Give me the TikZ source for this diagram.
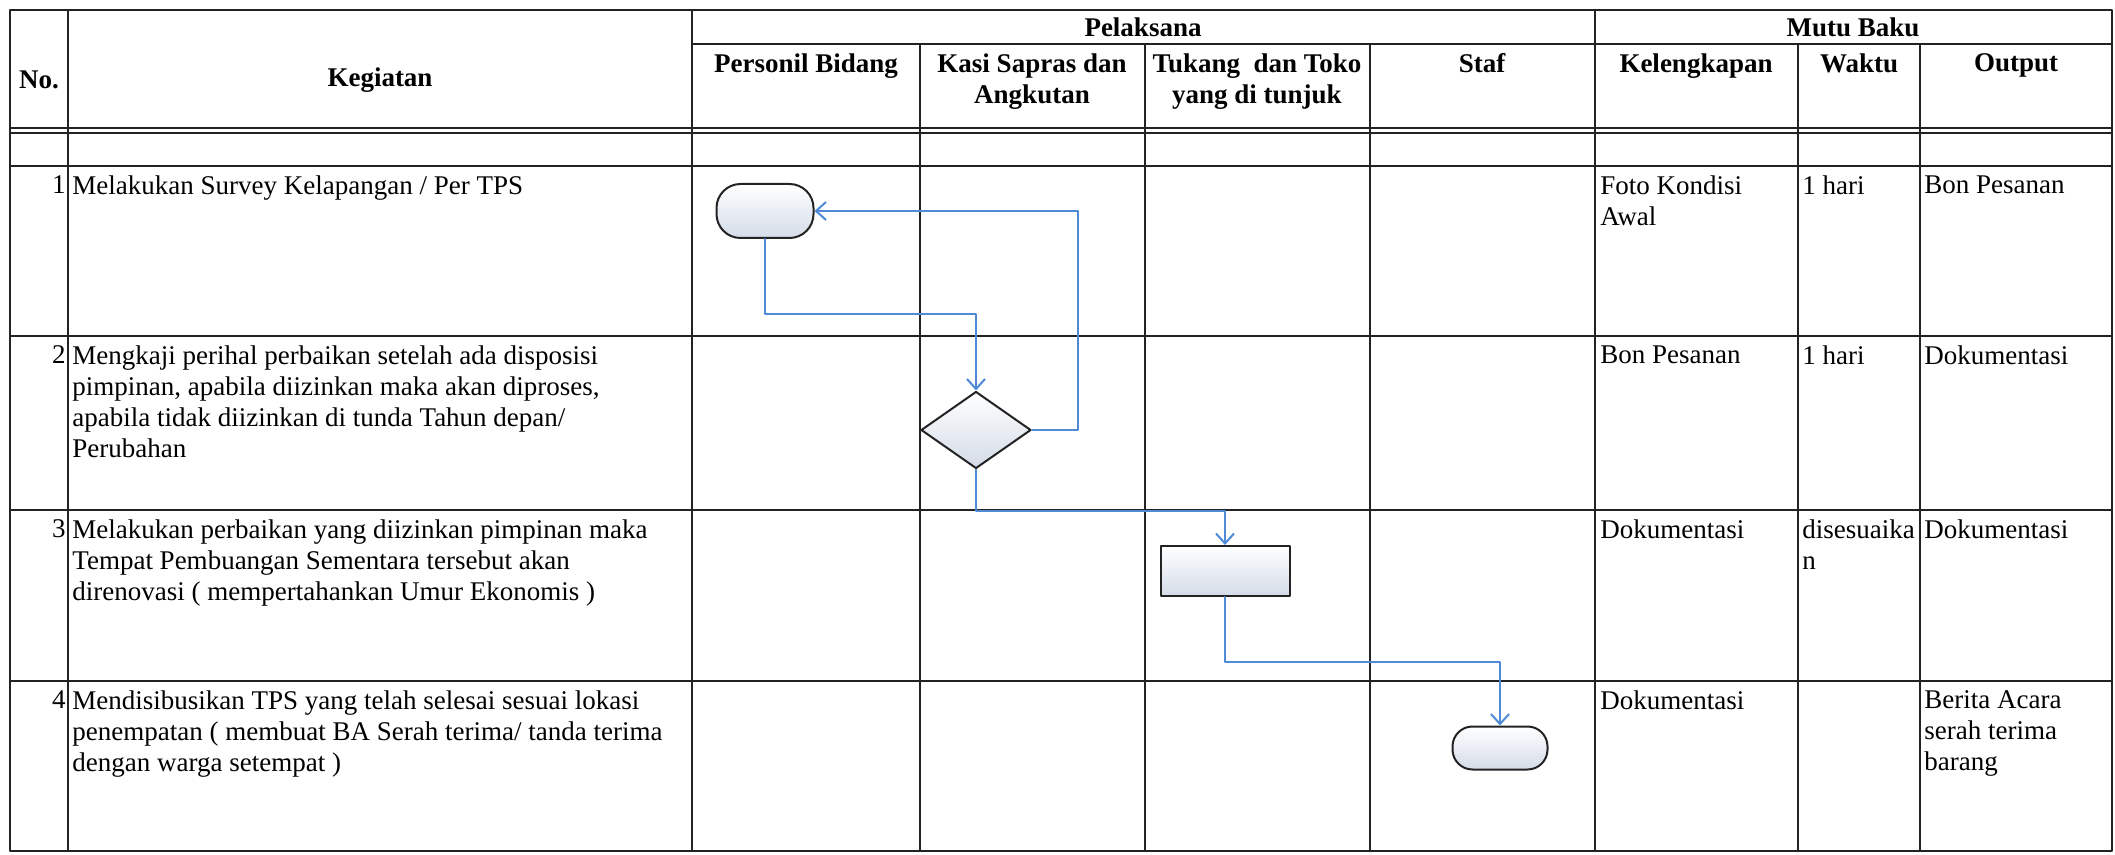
\documentclass[tikz,border=0pt]{standalone}
\usepackage{fontspec}
\setmainfont{Liberation Serif}
\usetikzlibrary{arrows.meta,shapes.geometric}

\definecolor{garis}{RGB}{35,35,35}
\definecolor{alur}{RGB}{78,138,214}
\definecolor{isi}{RGB}{212,220,232}

\begin{document}
\begin{tikzpicture}[x=0.5pt, y=-0.5pt, font=\fontsize{13.5}{15.5}\selectfont, line join=round, line cap=round, >={Straight Barb[length=5pt,width=9pt]},
    tabel/.style={garis, line width=1pt},
    judul/.style={font=\fontsize{13.5}{15.5}\selectfont\bfseries, align=center, inner sep=0pt},
    isian/.style={align=left, anchor=north west, inner sep=0pt},
    nomor/.style={anchor=north east, inner sep=0pt},
    kotak/.style={draw=garis, line width=1pt, top color=white, bottom color=isi},
    alir/.style={alur, line width=1pt, ->}]
\useasboundingbox (0,0) rectangle (2115,855);
% garis tabel
\draw[tabel] (10,10) rectangle (2112,851);
\draw[tabel] (692,44) -- (2112,44);
\draw[tabel] (10,128) -- (2112,128);
\draw[tabel] (10,133) -- (2112,133);
\foreach \y in {166,336,510,681} \draw[tabel] (10,\y) -- (2112,\y);
\foreach \x in {68,692,1595} \draw[tabel] (\x,10) -- (\x,851);
\foreach \x in {920,1145,1370,1798,1920} \draw[tabel] (\x,44) -- (\x,851);
% judul kolom
\node[judul] (no) at (39,80) {No.};
\node[judul] (keg) at (380,80) {Kegiatan};
\node[judul] (pel) at (1143,27) {Pelaksana};
\node[judul] (mutu) at (1853,27) {Mutu Baku};
\node[judul, anchor=north] (h1) at (806,53) {Personil Bidang};
\node[judul, anchor=north] (h2) at (1032,53) {Kasi Sapras dan\\Angkutan};
\node[judul, anchor=north] (h3) at (1257,53) {Tukang\ \ dan Toko\\yang di tunjuk};
\node[judul, anchor=north] (h4) at (1482,53) {Staf};
\node[judul, anchor=north] (h5) at (1696,53) {Kelengkapan};
\node[judul, anchor=north] (h6) at (1859,53) {Waktu};
\node[judul, anchor=north] (h7) at (2016,53) {Output};
% baris 1
\node[nomor] (n1) at (66,175) {1};
\node[isian] (k1) at (72,175) {Melakukan Survey Kelapangan / Per TPS};
\node[isian] (l1) at (1600,175) {Foto Kondisi\\Awal};
\node[isian] (w1) at (1802,175) {1 hari};
\node[isian] (o1) at (1924,175) {Bon Pesanan};
% baris 2
\node[nomor] (n2) at (66,345) {2};
\node[isian] (k2) at (72,345) {Mengkaji perihal perbaikan setelah ada disposisi\\pimpinan, apabila diizinkan maka akan diproses,\\apabila tidak diizinkan di tunda Tahun depan/\\Perubahan};
\node[isian] (l2) at (1600,345) {Bon Pesanan};
\node[isian] (w2) at (1802,345) {1 hari};
\node[isian] (o2) at (1924,345) {Dokumentasi};
% baris 3
\node[nomor] (n3) at (66,519) {3};
\node[isian] (k3) at (72,519) {Melakukan perbaikan yang diizinkan pimpinan maka\\Tempat Pembuangan Sementara tersebut akan\\direnovasi ( mempertahankan Umur Ekonomis )};
\node[isian] (l3) at (1600,519) {Dokumentasi};
\node[isian] (w3) at (1802,519) {disesuaika\\n};
\node[isian] (o3) at (1924,519) {Dokumentasi};
% baris 4
\node[nomor] (n4) at (66,690) {4};
\node[isian] (k4) at (72,690) {Mendisibusikan TPS yang telah selesai sesuai lokasi\\penempatan ( membuat BA Serah terima/ tanda terima\\dengan warga setempat )};
\node[isian] (l4) at (1600,690) {Dokumentasi};
\node[isian] (o4) at (1924,690) {Berita Acara\\serah terima\\barang};
% bagan alir
\node[kotak, rounded corners=12pt, minimum width=48.5pt, minimum height=27pt] (mulai) at (765,211) {};
\node[kotak, diamond, inner sep=0pt, minimum width=55pt, minimum height=38.5pt] (cek) at (976,430) {};
\node[kotak, minimum width=64.5pt, minimum height=25pt] (kerja) at (1225,571) {};
\node[kotak, rounded corners=10pt, minimum width=47.5pt, minimum height=21.5pt] (selesai) at (1500,748) {};
\draw[alir] (mulai.south) -- ++(0,75) -| (cek.north);
\draw[alir] (cek.east) -- ++(46,0) |- (mulai.east);
\draw[alir] (cek.south) -- ++(0,41) -| (kerja.north);
\draw[alir] (kerja.south) -- ++(0,65) -| (selesai.north);
\end{tikzpicture}
\end{document}
